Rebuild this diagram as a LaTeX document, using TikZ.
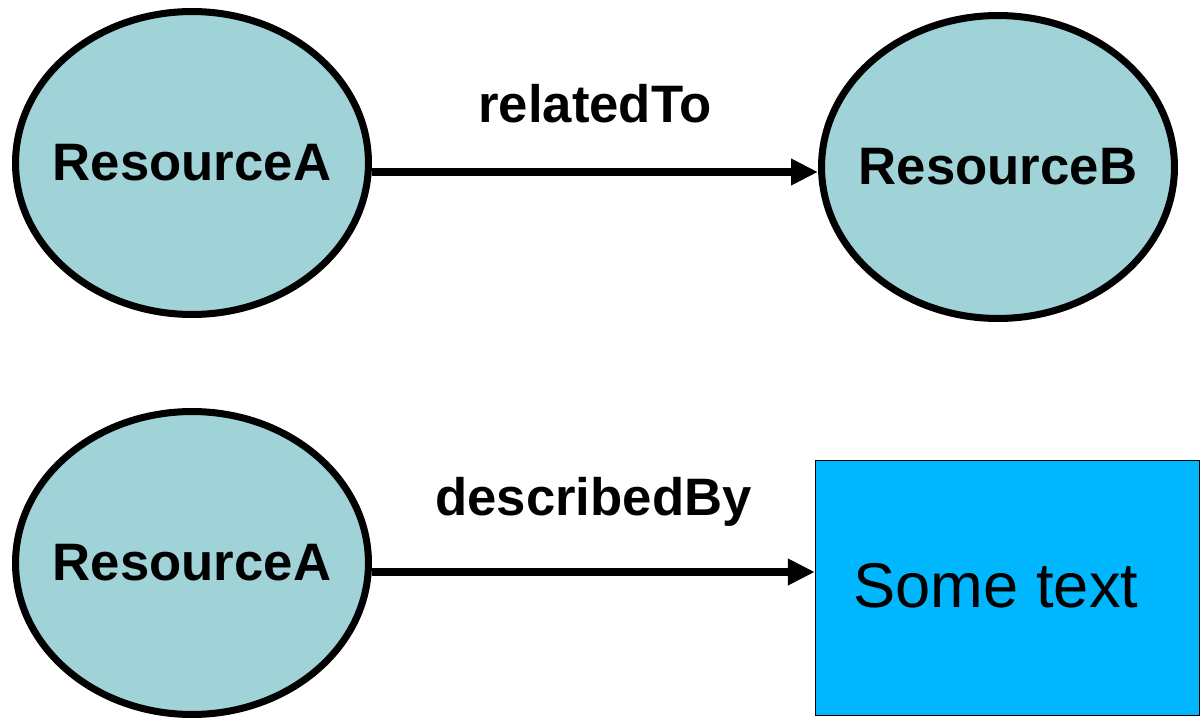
\documentclass[tikz,border=0pt]{standalone}
\usepackage{fontspec}
\setmainfont{Liberation Sans}
\usetikzlibrary{arrows.meta,shapes.geometric}
\definecolor{resfill}{RGB}{159,211,216}
\definecolor{litfill}{RGB}{0,183,255}
\begin{document}
\begin{tikzpicture}[x=0.02cm,y=-0.02cm,
  resource/.style={ellipse, draw=black, line width=4pt, fill=resfill, inner xsep=-12pt, inner ysep=0pt,
    minimum width=7.06cm, minimum height=6.06cm, font=\fontsize{30}{36}\selectfont\bfseries},
  literal/.style={rectangle, draw=black, line width=0.8pt, fill=litfill, inner sep=0pt,
    minimum width=7.68cm, minimum height=5.1cm},
  rel/.style={line width=4.5pt, -{Triangle[length=0.54cm,width=0.5cm]}},
  relname/.style={anchor=base, font=\fontsize{30}{36}\selectfont\bfseries}]
\useasboundingbox (0,0) rectangle (1201,720);

\node[resource](ra) at (192,163) {ResourceA};
\node[resource](rb) at (998,167) {ResourceB};
\draw[rel] ([yshift=-0.18cm]ra.east) -- node[relname, yshift=1cm]{relatedTo} ([yshift=-0.1cm]rb.west);

\node[resource](ra2) at (192,563) {ResourceA};
\node[literal, label={[xshift=-0.23cm, yshift=0.05cm, font=\fontsize{36}{43}\selectfont]center:Some text}](txt) at (1007.5,588) {};
\draw[rel] ([yshift=-0.18cm]ra2.east) -- node[relname, yshift=1.14cm]{describedBy} ([yshift=0.32cm]txt.west);
\end{tikzpicture}
\end{document}
